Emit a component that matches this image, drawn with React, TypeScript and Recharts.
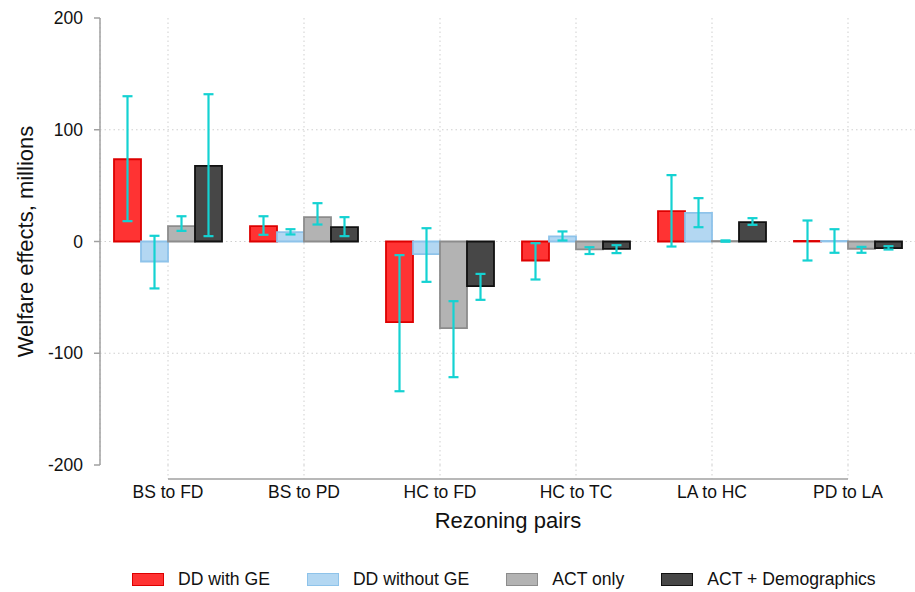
import {
  BarChart,
  Bar,
  XAxis,
  YAxis,
  CartesianGrid,
  ErrorBar,
  Legend,
  ReferenceLine,
} from "recharts";

const FONT = '"Liberation Sans", Arial, Helvetica, sans-serif';

const PAIRS = ["BS to FD", "BS to PD", "HC to FD", "HC to TC", "LA to HC", "PD to LA"];

// point estimates and 95% bounds, millions
const DD_GE = [73.6, 13.7, -72.2, -17, 27.1, 0.5];
const DD_GE_LO = [18.2, 6, -134, -34, -4.5, -17];
const DD_GE_HI = [130, 22.6, -12.2, -1.5, 59.4, 18.8];

const DD_NOGE = [-17.9, 8.3, -11.3, 4.5, 25.7, 0.5];
const DD_NOGE_LO = [-42, 6.3, -36.1, 0.9, 12.8, -10.1];
const DD_NOGE_HI = [5.1, 11, 11.9, 9, 38.8, 11];

const ACT = [13.7, 21.8, -77.6, -7, 0.4, -6.5];
const ACT_LO = [9.5, 15.2, -121.4, -11.2, -0.2, -10.1];
const ACT_HI = [22.6, 34.3, -53.4, -5.1, 1, -4.8];

const ACT_DEM = [67.7, 12.8, -40, -6.6, 17.3, -6];
const ACT_DEM_LO = [4.8, 4.8, -52.2, -10.4, 14.9, -7.2];
const ACT_DEM_HI = [131.8, 21.8, -29, -3.3, 20.9, -4.2];

const Y_TICKS = [-200, -100, 0, 100, 200];
const GRID_VALUES = [-100, 0, 100];
const AXIS_Y = -212.5;

const SERIES = [
  { key: "ddGe", name: "DD with GE", fill: "#ff3333", stroke: "#dd0000", v: DD_GE, lo: DD_GE_LO, hi: DD_GE_HI },
  { key: "ddNoGe", name: "DD without GE", fill: "#b3d7f2", stroke: "#8ec3ea", v: DD_NOGE, lo: DD_NOGE_LO, hi: DD_NOGE_HI },
  { key: "act", name: "ACT only", fill: "#b3b3b3", stroke: "#8c8c8c", v: ACT, lo: ACT_LO, hi: ACT_HI },
  { key: "actDem", name: "ACT + Demographics", fill: "#474747", stroke: "#111111", v: ACT_DEM, lo: ACT_DEM_LO, hi: ACT_DEM_HI },
];

const data = PAIRS.map((pair, i) => {
  const row: Record<string, any> = { pair };
  SERIES.forEach((s) => {
    row[s.key] = s.v[i];
    row[s.key + "Err"] = [s.v[i] - s.lo[i], s.hi[i] - s.v[i]];
  });
  return row;
});

const YTitle = (props: any) => {
  const vb = props.viewBox || { y: 18, height: 447 };
  const cy = vb.y + vb.height / 2;
  return (
    <text
      x={25}
      y={cy}
      transform={`rotate(-90 25 ${cy})`}
      textAnchor="middle"
      dominantBaseline="central"
      fontSize={22}
      fontFamily={FONT}
      fill="#111"
    >
      Welfare effects, millions
    </text>
  );
};

const LegendContent = () => (
  <div
    style={{
      display: "flex",
      alignItems: "center",
      paddingLeft: 132,
      paddingTop: 26,
      height: 52,
      boxSizing: "border-box",
      fontFamily: FONT,
      fontSize: 17.6,
      color: "#111",
      whiteSpace: "nowrap",
    }}
  >
    {SERIES.map((s) => (
      <div key={s.key} style={{ display: "flex", alignItems: "center", marginRight: 37 }}>
        <span
          style={{
            display: "inline-block",
            width: 32,
            height: 13,
            background: s.fill,
            border: `1.5px solid ${s.stroke}`,
            boxSizing: "border-box",
            marginRight: 14,
          }}
        />
        <span style={{ lineHeight: "13px" }}>{s.name}</span>
      </div>
    ))}
  </div>
);

export default function App() {
  return (
    <div style={{ position: "absolute", left: 0, top: 0, width: 915, height: 592, overflow: "hidden", background: "#fff" }}>
      <BarChart
        width={916}
        height={592}
        data={data}
        margin={{ top: 18, right: 0, bottom: 0, left: 0 }}
        barGap={0}
        barCategoryGap={14}
        style={{ fontFamily: FONT }}
      >
        <CartesianGrid
          stroke="#cfcfcf"
          strokeDasharray="1.5 3"
          horizontalValues={GRID_VALUES}
        />
        <XAxis
          dataKey="pair"
          axisLine={false}
          tickLine={false}
          tickSize={0}
          tickMargin={21}
          height={75}
          interval={0}
          tick={{ fontSize: 17.5, fill: "#111", fontFamily: FONT }}
          label={{
            value: "Rezoning pairs",
            position: "insideBottom",
            offset: 12,
            fontSize: 22,
            fill: "#111",
            fontFamily: FONT,
          }}
        />
        <YAxis
          width={100}
          domain={[-200, 200]}
          ticks={Y_TICKS}
          interval={0}
          allowDataOverflow
          tickSize={6}
          tickMargin={11}
          axisLine={{ stroke: "#a0a0a0", strokeWidth: 1.5 }}
          tickLine={{ stroke: "#a0a0a0", strokeWidth: 1.5 }}
          tick={{ fontSize: 17.5, fill: "#111", fontFamily: FONT }}
          label={<YTitle />}
        />
        {PAIRS.map((p) => (
          <ReferenceLine
            key={"g" + p}
            segment={[
              { x: p, y: -200 },
              { x: p, y: AXIS_Y },
            ]}
            stroke="#cfcfcf"
            strokeDasharray="1.5 3"
            ifOverflow="visible"
          />
        ))}
        <ReferenceLine
          segment={[
            { x: PAIRS[0], y: AXIS_Y },
            { x: PAIRS[PAIRS.length - 1], y: AXIS_Y },
          ]}
          stroke="#a0a0a0"
          strokeWidth={1.5}
          ifOverflow="visible"
        />
        <Legend verticalAlign="bottom" height={52} wrapperStyle={{ left: 0, width: 916, bottom: 0 }} content={<LegendContent />} />
        {SERIES.map((s) => (
          <Bar
            key={s.key}
            dataKey={s.key}
            name={s.name}
            fill={s.fill}
            stroke={s.stroke}
            strokeWidth={1.8}
            isAnimationActive={false}
          >
            <ErrorBar
              dataKey={s.key + "Err"}
              width={5}
              stroke="#14d2d2"
              strokeWidth={2.2}
              isAnimationActive={false}
            />
          </Bar>
        ))}
      </BarChart>
    </div>
  );
}
